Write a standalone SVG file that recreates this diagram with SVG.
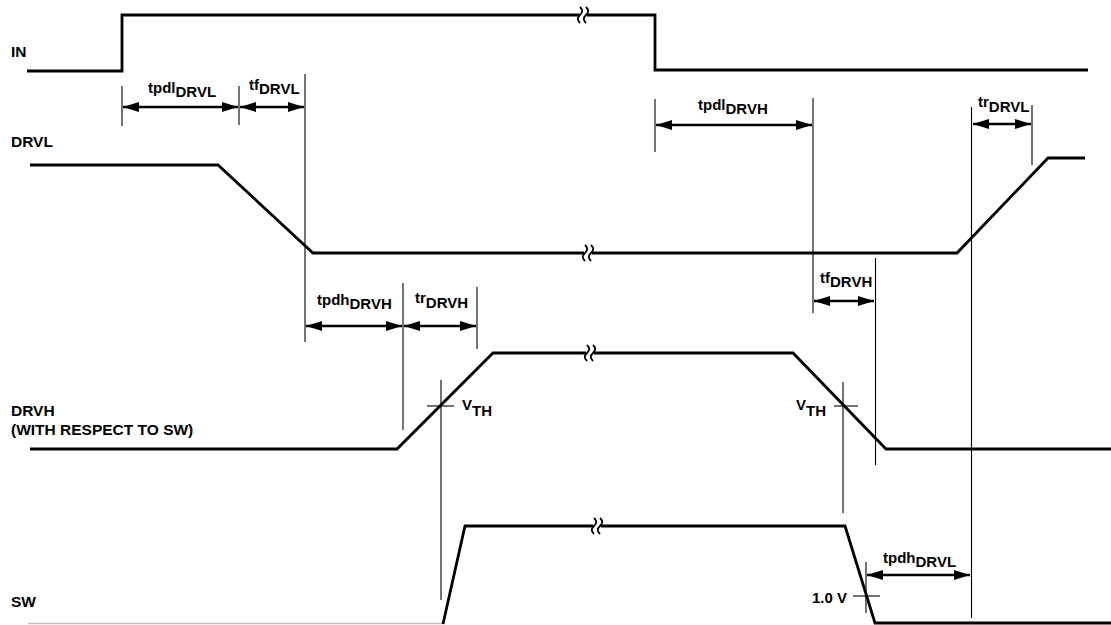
<svg xmlns="http://www.w3.org/2000/svg" width="1111" height="625" viewBox="0 0 1111 625">
<style>
  .sig{fill:none;stroke:#000;stroke-width:2.8;stroke-linejoin:miter}
  .tick{fill:none;stroke:#000;stroke-width:1.1}
  .dim{fill:none;stroke:#000;stroke-width:2.5;marker-start:url(#ah);marker-end:url(#ah)}
  .brk{fill:none;stroke:#000;stroke-width:1.8}
  .lbl{font-family:"Liberation Sans",Arial,sans-serif;font-weight:bold;font-size:15.5px;fill:#000}
  .t{font-family:"Liberation Sans",Arial,sans-serif;font-weight:bold;font-size:15px;fill:#000}
</style>
<defs>
  <marker id="ah" viewBox="0 0 16 10" refX="16" refY="5" markerWidth="16" markerHeight="10" markerUnits="userSpaceOnUse" orient="auto-start-reverse">
    <path d="M0,0 L16,5 L0,10 Z" fill="#000"/>
  </marker>
  <g id="brkmark">
    <rect x="-4" y="-3" width="8" height="6" fill="#fff"/>
    <path class="brk" d="M-3,-8 C0,-5 0,-3 -3,0 C-6,3 -6,5 -3,8"/>
    <path class="brk" d="M3,-8 C6,-5 6,-3 3,0 C0,3 0,5 3,8"/>
  </g>
</defs>

<g id="labels">
  <text class="lbl" x="11" y="57">IN</text>
  <text class="lbl" x="11" y="147">DRVL</text>
  <text class="lbl" x="11" y="416">DRVH</text>
  <text class="lbl" x="11" y="435">(WITH RESPECT TO SW)</text>
  <text class="lbl" x="11" y="607">SW</text>
</g>

<g id="signal-IN">
  <path class="sig" d="M27,71 H122 V15 H655 V70 H1088"/>
  <use href="#brkmark" x="583" y="15"/>
</g>

<g id="signal-DRVL">
  <path class="sig" d="M30,165 H218 L313,253 H957 L1048,158 H1085"/>
  <use href="#brkmark" x="588" y="253"/>
</g>

<g id="signal-DRVH">
  <path class="sig" d="M30,449 H397 L493,353 H793 L886,449 H1111"/>
  <use href="#brkmark" x="590" y="353"/>
</g>

<g id="signal-SW">
  <path d="M28,623.5 H443" fill="none" stroke="#c4c4c4" stroke-width="1.6"/>
  <path class="sig" d="M443,624 L465,526 H845 L875,623 H1111"/>
  <use href="#brkmark" x="597" y="526"/>
</g>

<g id="connectors">
  <!-- timing reference lines -->
  <line class="tick" x1="122" y1="86" x2="122" y2="126"/>
  <line class="tick" x1="239" y1="86" x2="239" y2="125"/>
  <line class="tick" x1="305" y1="74" x2="305" y2="342"/>
  <line class="tick" x1="655" y1="99" x2="655" y2="152"/>
  <line class="tick" x1="813" y1="98" x2="813" y2="313"/>
  <line class="tick" x1="971.5" y1="107" x2="971.5" y2="618"/>
  <line class="tick" x1="1032" y1="105" x2="1032" y2="165"/>
  <line class="tick" x1="403" y1="283" x2="403" y2="430"/>
  <line class="tick" x1="477" y1="287" x2="477" y2="349"/>
  <line class="tick" x1="875.5" y1="258" x2="875.5" y2="465"/>
  <line class="tick" x1="441" y1="380" x2="441" y2="600"/>
  <line class="tick" x1="843" y1="382" x2="843" y2="513"/>
  <line class="tick" x1="866" y1="562" x2="866" y2="613"/>
  <line class="tick" x1="427" y1="406" x2="454" y2="406"/>
  <line class="tick" x1="834" y1="406" x2="858" y2="406"/>
  <line class="tick" x1="853" y1="596" x2="880" y2="596"/>
  <!-- dimension arrows -->
  <line class="dim" x1="123" y1="107" x2="238" y2="107"/>
  <line class="dim" x1="240" y1="107" x2="304" y2="107"/>
  <line class="dim" x1="656" y1="125" x2="812" y2="125"/>
  <line class="dim" x1="973" y1="124" x2="1031" y2="124"/>
  <line class="dim" x1="306" y1="326" x2="402" y2="326"/>
  <line class="dim" x1="404" y1="326" x2="476" y2="326"/>
  <line class="dim" x1="814" y1="301" x2="874" y2="301"/>
  <line class="dim" x1="867" y1="575" x2="970" y2="575"/>
</g>

<g id="timing-labels">
  <text class="t" x="148" y="93">tpdl<tspan dy="4">DRVL</tspan></text>
  <text class="t" x="249" y="90">tf<tspan dy="4">DRVL</tspan></text>
  <text class="t" x="698" y="110">tpdl<tspan dy="4">DRVH</tspan></text>
  <text class="t" x="978" y="107">tr<tspan dy="5">DRVL</tspan></text>
  <text class="t" x="317" y="305">tpdh<tspan dy="4">DRVH</tspan></text>
  <text class="t" x="415" y="303">tr<tspan dy="5">DRVH</tspan></text>
  <text class="t" x="820" y="283">tf<tspan dy="4">DRVH</tspan></text>
  <text class="t" x="883" y="563">tpdh<tspan dy="4">DRVL</tspan></text>
  <text class="t" x="462" y="410">V<tspan dy="6">TH</tspan></text>
  <text class="t" x="796" y="410">V<tspan dy="6">TH</tspan></text>
  <text class="t" x="812" y="603">1.0 V</text>
</g>
</svg>
